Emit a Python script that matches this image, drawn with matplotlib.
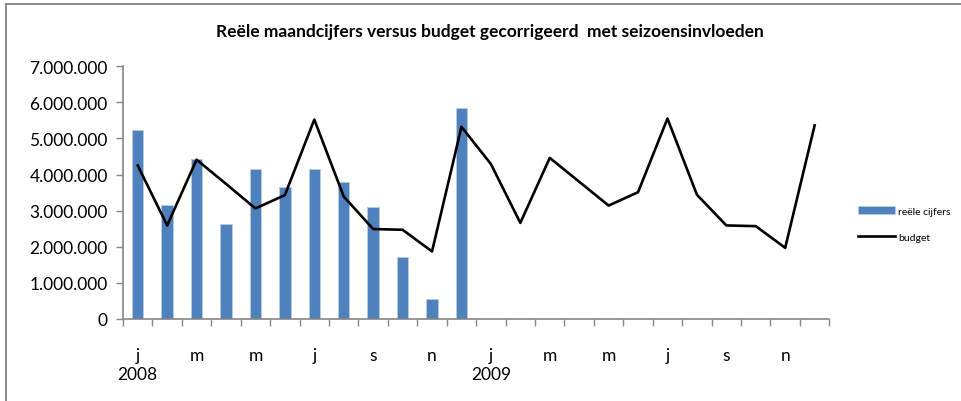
import numpy as np
import matplotlib.pyplot as plt
from matplotlib.patches import Rectangle
from matplotlib.ticker import FuncFormatter

plt.rcParams['font.family'] = ['Lato', 'DejaVu Sans']

# maand-labels (alleen om de 2 maanden getoond)
months = ['j', 'f', 'm', 'a', 'm', 'j', 'j', 'a', 's', 'o', 'n', 'd'] * 2
years = ['2008', '2009']

# reele cijfers 2008
actual = [5220000, 3160000, 4420000, 2630000, 4150000, 3660000,
          4150000, 3780000, 3100000, 1720000, 550000, 5840000]

# budget 2008 + 2009
budget = [4250000, 2590000, 4410000, 3740000, 3060000, 3430000,
          5520000, 3390000, 2490000, 2470000, 1870000, 5320000,
          4290000, 2660000, 4460000, 3800000, 3140000, 3510000,
          5550000, 3440000, 2590000, 2570000, 1970000, 5360000]

fig = plt.figure(figsize=(9.61, 4.02), dpi=100)
ax = fig.add_axes([0.128, 0.204, 0.735, 0.629])

x_act = np.arange(len(actual))
x_bud = np.arange(len(budget))

bars = ax.bar(x_act, actual, width=0.39, color='#4F81BD', edgecolor='#B9CDE5',
              linewidth=0.6, label='reële cijfers', zorder=2)
line, = ax.plot(x_bud, budget, color='black', lw=1.9, label='budget', zorder=3)

ax.set_xlim(-0.5, len(budget) - 0.5)
ax.set_ylim(0, 7000000)
ax.set_yticks(np.arange(0, 7000001, 1000000))
ax.yaxis.set_major_formatter(FuncFormatter(lambda v, p: f'{int(v):,}'.replace(',', '.')))

# ticks tussen de categorieen, labels om de 2 maanden
ax.set_xticks(np.arange(-0.5, len(budget), 1))
ax.set_xticklabels([])
ax.set_xticks(np.arange(0, len(budget), 2), minor=True)
ax.set_xticklabels(months[::2], minor=True)
ax.tick_params(axis='x', which='major', length=5, color='#868686', width=1)
ax.tick_params(axis='x', which='minor', length=0, pad=20, labelsize=12.5)
ax.tick_params(axis='y', length=5, color='#868686', width=1, labelsize=12.5, pad=6)

for s in ['top', 'right']:
    ax.spines[s].set_visible(False)
for s in ['left', 'bottom']:
    ax.spines[s].set_color('#868686')
    ax.spines[s].set_linewidth(1.2)

for i, y in enumerate(years):
    ax.text(i * 12, -0.185, y, transform=ax.get_xaxis_transform(),
            ha='center', va='top', fontsize=12.5)

fig.text(0.51, 0.92, 'Reële maandcijfers versus budget gecorrigeerd  met seizoensinvloeden',
         ha='center', va='center', fontsize=12.5, fontweight='bold')

ax.legend([bars, line], ['reële cijfers', 'budget'],
          loc='center left', bbox_to_anchor=(0.888, 0.44), bbox_transform=fig.transFigure,
          frameon=False, fontsize=7.5, handlelength=3.6, handleheight=0.7,
          labelspacing=1.6, handletextpad=0.3, borderaxespad=0)

# kader om de grafiek
fig.patches.append(Rectangle((6 / 961, -0.1), 1.2, 1.1 - 5 / 402,
                             transform=fig.transFigure, fill=False,
                             edgecolor='#8C8C8C', lw=1.5))

fig.savefig('out.png', dpi=100)
